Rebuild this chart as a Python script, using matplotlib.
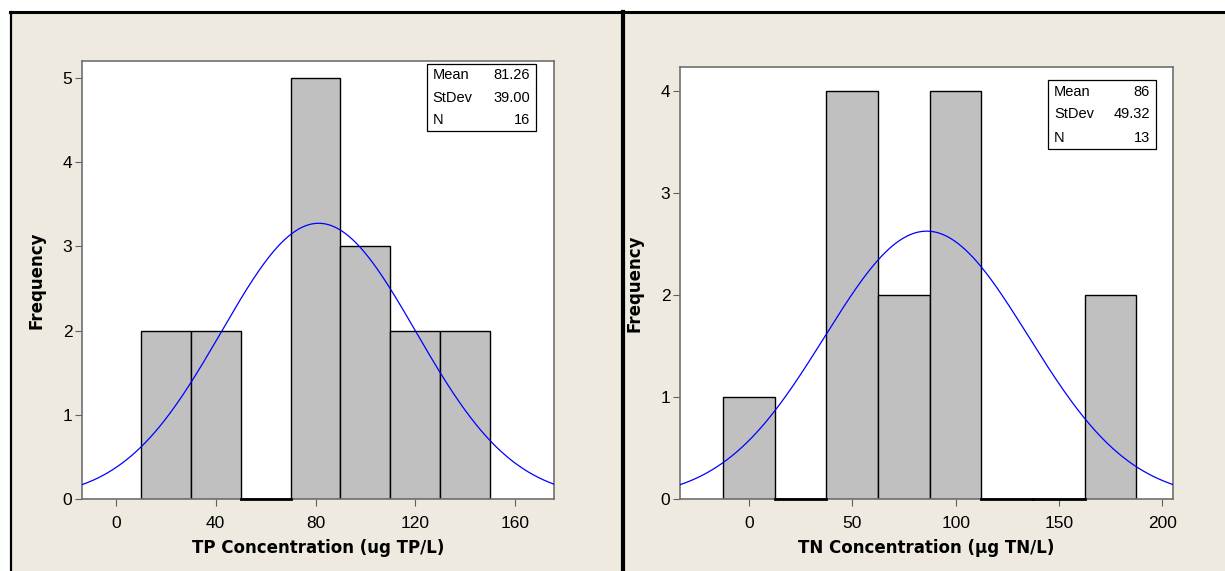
#!/usr/bin/python3
# -*- coding: utf-8 -*-
"""
    Histograms of TP and TN concentrations with fitted normal curves.
"""

import numpy as np
from matplotlib import pyplot as plt
from matplotlib.patches import Rectangle

# TP histogram (bin centres, counts) and summary
tp_centers = [20, 40, 60, 80, 100, 120, 140]
tp_counts = [2, 2, 0, 5, 3, 2, 2]
tp_width = 20
tp_mean, tp_std, tp_n = 81.26, 39.00, 16
tp_stats = ["81.26", "39.00", "16"]
tp_xticks = [0, 40, 80, 120, 160]

# TN histogram (bin centres, counts) and summary
tn_centers = [0, 25, 50, 75, 100, 125, 150, 175]
tn_counts = [1, 0, 4, 2, 4, 0, 0, 2]
tn_width = 25
tn_mean, tn_std, tn_n = 86, 49.32, 13
tn_stats = ["86", "49.32", "13"]
tn_xticks = [0, 50, 100, 150, 200]

stat_names = ["Mean", "StDev", "N"]

W, H = 1225, 571
BEIGE = "#eeeae0"

plt.rcParams["font.family"] = ["Liberation Sans", "DejaVu Sans"]


def px_axes(fig, x0, y0, x1, y1):
    # pixel box (top-left origin) -> figure axes
    return fig.add_axes([x0 / W, 1 - y1 / H, (x1 - x0) / W, (y1 - y0) / H])


def draw_hist(ax, centers, counts, width, mean, std, n, xlim, ylim, xticks, yticks, xlabel, stats, box):
    ax.bar(centers, counts, width=width, color="#c0c0c0", edgecolor="black", linewidth=1.0, zorder=2)
    # zero bins show a dark line along the baseline
    for c, k in zip(centers, counts):
        if k == 0:
            ax.plot([c - width / 2, c + width / 2], [0, 0], color="black", lw=2.0, zorder=3, clip_on=False)
    x = np.linspace(xlim[0], xlim[1], 400)
    y = n * width / (std * np.sqrt(2 * np.pi)) * np.exp(-0.5 * ((x - mean) / std) ** 2)
    ax.plot(x, y, color="#0000ff", lw=0.9, zorder=4)
    ax.set_xlim(xlim)
    ax.set_ylim(ylim)
    ax.set_xticks(xticks)
    ax.set_yticks(yticks)
    ax.tick_params(direction="out", length=5, width=0.8, color="#606060", labelsize=12.5)
    ax.tick_params(axis="x", pad=7)
    ax.tick_params(axis="y", pad=2)
    for s in ax.spines.values():
        s.set_color("#707070")
        s.set_linewidth(1.2)
    ax.set_xlabel(xlabel, fontsize=12, fontweight="bold", family="DejaVu Sans", labelpad=6)
    ax.set_ylabel("Frequency", fontsize=12, fontweight="bold", family="DejaVu Sans", labelpad=12)
    # stats box in axes-fraction coordinates
    bx0, by0, bx1, by1 = box
    ax.add_patch(Rectangle((bx0, by0), bx1 - bx0, by1 - by0, transform=ax.transAxes,
                           facecolor="white", edgecolor="black", lw=0.9, zorder=5))
    for i, (name, val) in enumerate(zip(stat_names, stats)):
        yy = by1 - (i + 0.5) * (by1 - by0) / 3
        ax.text(bx0 + 0.012, yy, name, transform=ax.transAxes, fontsize=10.5, va="center", ha="left", zorder=6)
        ax.text(bx1 - 0.012, yy, val, transform=ax.transAxes, fontsize=10.5, va="center", ha="right", zorder=6)


def main():
    fig = plt.figure(figsize=(W / 100, H / 100), dpi=100, facecolor="white")

    # panel backgrounds and frame lines
    fig.patches.append(Rectangle((11 / W, 0), (621 - 11) / W, 1 - 12 / H, transform=fig.transFigure,
                                 facecolor=BEIGE, edgecolor="none", zorder=-2))
    fig.patches.append(Rectangle((624 / W, 0), (W - 624) / W, 1 - 12 / H, transform=fig.transFigure,
                                 facecolor=BEIGE, edgecolor="none", zorder=-2))
    fig.add_artist(plt.Line2D([10 / W, 1], [1 - 12 / H, 1 - 12 / H], color="black", lw=2.2, transform=fig.transFigure))
    fig.add_artist(plt.Line2D([11 / W, 11 / W], [0, 1 - 12 / H], color="black", lw=1.6, transform=fig.transFigure))
    fig.add_artist(plt.Line2D([622.5 / W, 622.5 / W], [0, 1 - 12 / H], color="black", lw=3.0, transform=fig.transFigure))

    # left: TP
    ax1 = px_axes(fig, 82, 61, 554, 499)
    x0, x1 = 82, 554
    y0, y1 = 61, 499
    draw_hist(ax1, tp_centers, tp_counts, tp_width, tp_mean, tp_std, tp_n,
              (-13.6, 175.6), (0, 5.2), tp_xticks, [0, 1, 2, 3, 4, 5],
              "TP Concentration (ug TP/L)", tp_stats,
              ((427 - x0) / (x1 - x0), (y1 - 131) / (y1 - y0), (536 - x0) / (x1 - x0), (y1 - 64) / (y1 - y0)))

    # right: TN
    ax2 = px_axes(fig, 680, 67, 1173, 499)
    x0, x1 = 680, 1173
    y0, y1 = 67, 499
    draw_hist(ax2, tn_centers, tn_counts, tn_width, tn_mean, tn_std, tn_n,
              (-33.4, 205.2), (0, 4.24), tn_xticks, [0, 1, 2, 3, 4],
              "TN Concentration (\u00b5g TN/L)", tn_stats,
              ((1048 - x0) / (x1 - x0), (y1 - 149) / (y1 - y0), (1156 - x0) / (x1 - x0), (y1 - 80) / (y1 - y0)))

    plt.savefig("out.png", dpi=100, facecolor=fig.get_facecolor())
    plt.close()


if __name__ == "__main__":
    main()
